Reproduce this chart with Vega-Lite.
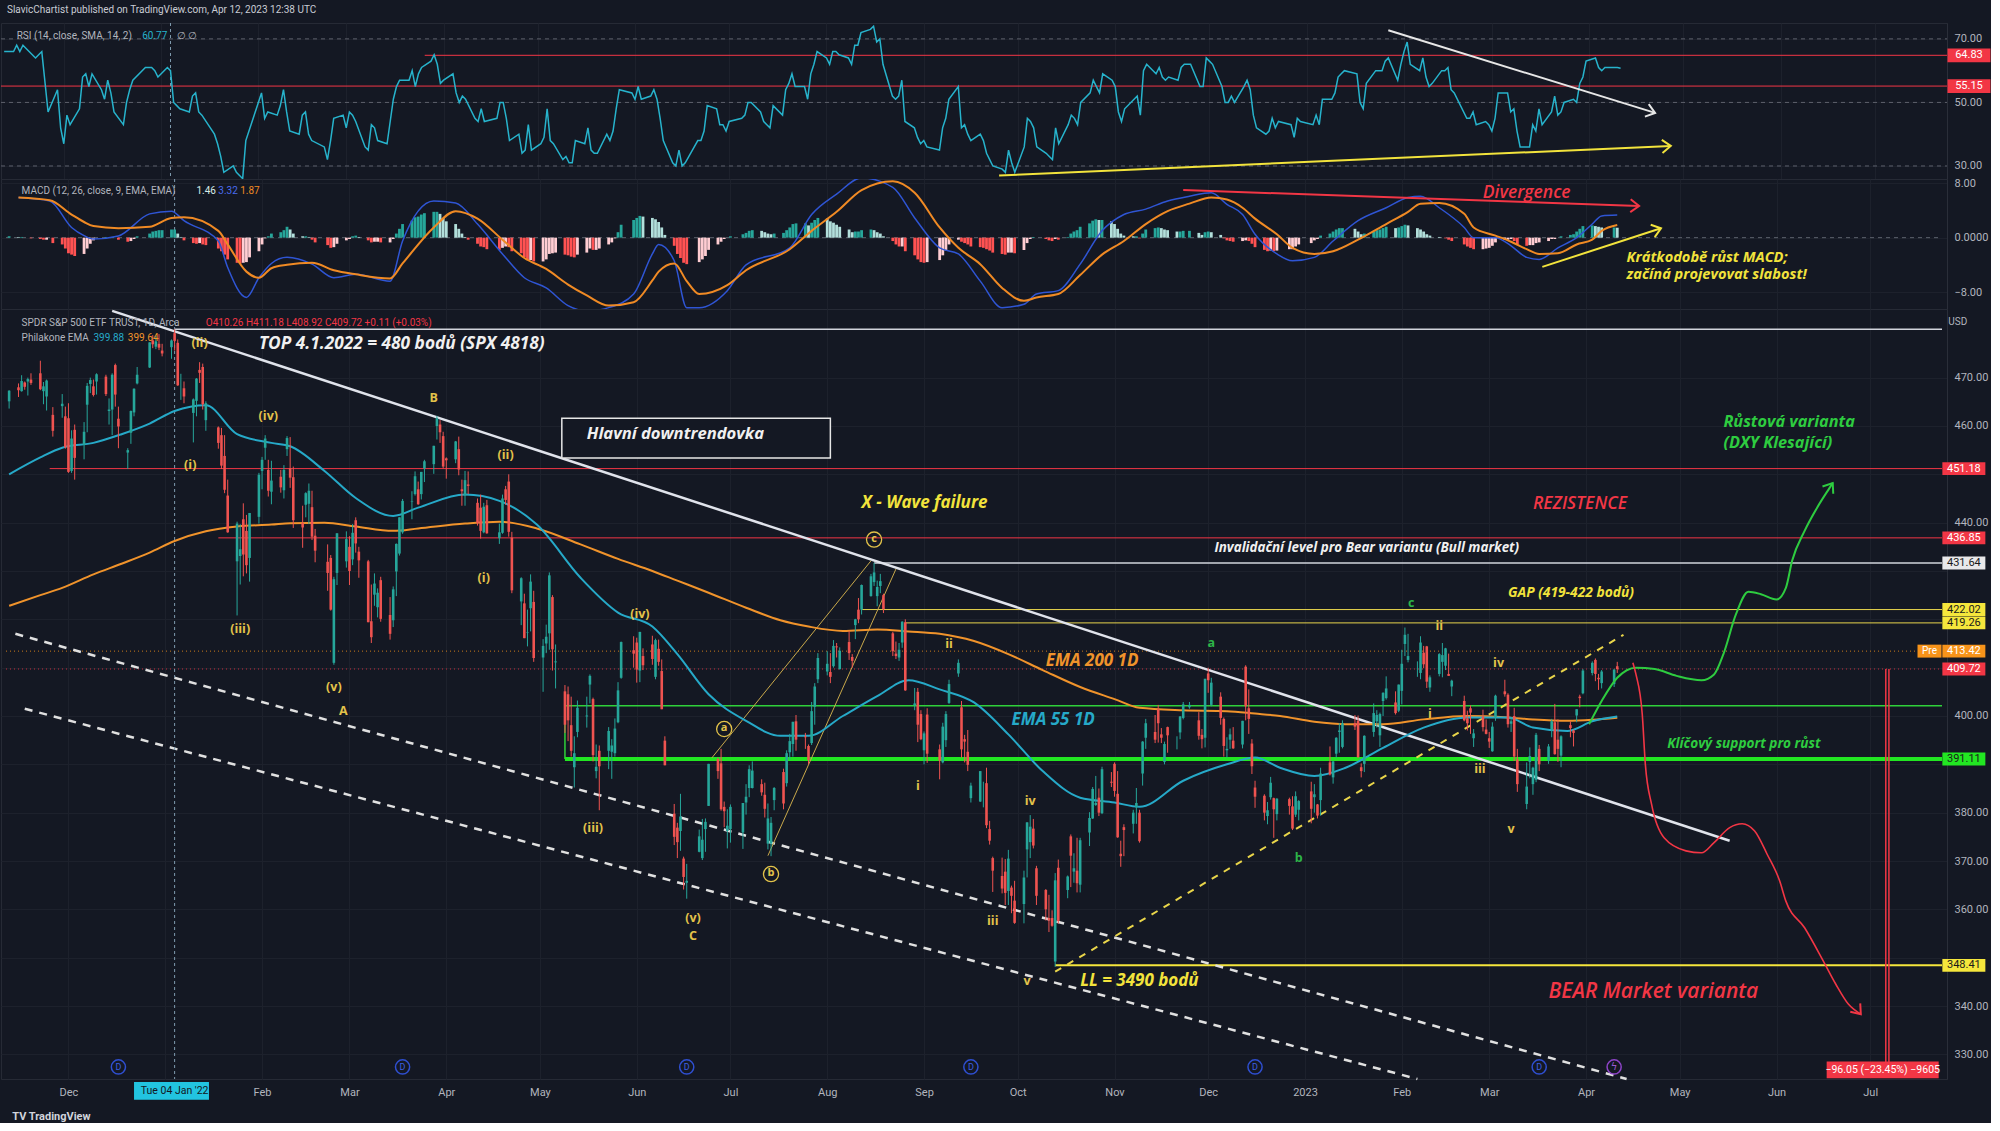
{
"$schema":"https://vega.github.io/schema/vega-lite/v6.json",
"background":"#141823",
"padding":{"left":0,"top":5,"right":0,"bottom":0},
"spacing":0,
"bounds":"flush",
"title":{"text":"SlavicChartist published on TradingView.com, Apr 12, 2023 12:38 UTC","anchor":"start","fontSize":10,"fontWeight":"normal","font":"Roboto","color":"#c9ccd4","offset":7,"dx":7},
"config":{"view":{"stroke":"#262a35"},"axis":{"gridColor":"#1d212c","domainColor":"#2a2e39","labelColor":"#b2b5be","labelFont":"Roboto","labelFontSize":11,"ticks":false}},
"datasets":{
"p":[
{"d":"2021-11-12","o":465.1,"h":467.4,"l":463.6,"c":467.3,"r":66,"hi":0.2},
{"d":"2021-11-15","o":468.0,"h":468.8,"l":466.0,"c":467.4,"r":66,"hi":0.1},
{"d":"2021-11-16","o":467.2,"h":470.5,"l":467.1,"c":469.3,"r":68,"hi":0.1},
{"d":"2021-11-17","o":469.0,"h":469.2,"l":467.5,"c":468.1,"r":66,"hi":0.0},
{"d":"2021-11-18","o":469.2,"h":470.0,"l":466.3,"c":469.7,"r":68,"hi":0.0},
{"d":"2021-11-19","o":469.6,"h":470.9,"l":468.5,"c":468.9,"r":67,"hi":-0.1},
{"d":"2021-11-22","o":470.9,"h":473.5,"l":467.4,"c":467.6,"r":64,"hi":-0.2},
{"d":"2021-11-23","o":467.2,"h":469.1,"l":464.5,"c":468.2,"r":65,"hi":-0.3},
{"d":"2021-11-24","o":466.1,"h":469.6,"l":463.2,"c":469.4,"r":66,"hi":-0.3},
{"d":"2021-11-26","o":462.3,"h":463.9,"l":457.8,"c":459.0,"r":47,"hi":-0.8},
{"d":"2021-11-29","o":464.1,"h":466.6,"l":461.7,"c":464.6,"r":54,"hi":-1.0},
{"d":"2021-11-30","o":462.0,"h":464.0,"l":455.3,"c":455.6,"r":42,"hi":-1.6},
{"d":"2021-12-01","o":461.6,"h":464.7,"l":450.3,"c":450.5,"r":37,"hi":-2.3},
{"d":"2021-12-02","o":450.7,"h":459.1,"l":450.3,"c":457.4,"r":46,"hi":-2.5},
{"d":"2021-12-03","o":459.2,"h":460.3,"l":448.9,"c":453.4,"r":43,"hi":-2.7},
{"d":"2021-12-06","o":456.1,"h":460.8,"l":453.1,"c":458.8,"r":48,"hi":-2.4},
{"d":"2021-12-07","o":464.4,"h":468.9,"l":458.7,"c":468.3,"r":58,"hi":-1.6},
{"d":"2021-12-08","o":468.7,"h":470.0,"l":466.8,"c":469.5,"r":59,"hi":-0.9},
{"d":"2021-12-09","o":468.2,"h":469.6,"l":466.1,"c":466.4,"r":55,"hi":-0.4},
{"d":"2021-12-10","o":469.2,"h":470.9,"l":466.5,"c":470.7,"r":59,"hi":0.0},
{"d":"2021-12-13","o":470.2,"h":470.6,"l":466.2,"c":466.6,"r":54,"hi":0.1},
{"d":"2021-12-14","o":463.1,"h":465.7,"l":460.3,"c":463.4,"r":51,"hi":0.0},
{"d":"2021-12-15","o":463.4,"h":470.9,"l":458.1,"c":470.6,"r":57,"hi":0.1},
{"d":"2021-12-16","o":472.6,"h":472.9,"l":464.0,"c":466.5,"r":53,"hi":0.0},
{"d":"2021-12-17","o":461.5,"h":464.0,"l":455.4,"c":459.9,"r":47,"hi":-0.3},
{"d":"2021-12-20","o":454.5,"h":455.4,"l":451.1,"c":455.0,"r":43,"hi":-0.6},
{"d":"2021-12-21","o":458.6,"h":463.2,"l":456.3,"c":463.1,"r":50,"hi":-0.5},
{"d":"2021-12-22","o":462.8,"h":467.8,"l":462.0,"c":467.7,"r":54,"hi":-0.2},
{"d":"2021-12-23","o":468.8,"h":472.2,"l":468.6,"c":470.6,"r":57,"hi":0.2},
{"d":"2021-12-27","o":472.1,"h":477.3,"l":472.0,"c":477.3,"r":61,"hi":0.6},
{"d":"2021-12-28","o":477.7,"h":478.8,"l":476.1,"c":476.9,"r":61,"hi":0.9},
{"d":"2021-12-29","o":476.4,"h":478.6,"l":475.9,"c":477.5,"r":61,"hi":1.0},
{"d":"2021-12-30","o":477.0,"h":479.0,"l":475.7,"c":476.2,"r":60,"hi":1.1},
{"d":"2021-12-31","o":475.6,"h":477.0,"l":474.4,"c":475.0,"r":58,"hi":1.1},
{"d":"2022-01-03","o":476.3,"h":477.9,"l":473.9,"c":477.7,"r":61,"hi":1.2},
{"d":"2022-01-04","o":479.2,"h":480.0,"l":475.6,"c":477.6,"r":60,"hi":1.2},
{"d":"2022-01-05","o":477.2,"h":477.9,"l":468.3,"c":468.4,"r":50,"hi":0.6},
{"d":"2022-01-06","o":467.9,"h":470.8,"l":465.4,"c":467.9,"r":49,"hi":0.1},
{"d":"2022-01-07","o":467.8,"h":469.2,"l":464.7,"c":466.1,"r":48,"hi":-0.4},
{"d":"2022-01-10","o":462.7,"h":465.7,"l":456.6,"c":465.5,"r":47,"hi":-0.8},
{"d":"2022-01-11","o":465.2,"h":469.9,"l":462.0,"c":469.8,"r":52,"hi":-0.9},
{"d":"2022-01-12","o":471.6,"h":473.2,"l":468.9,"c":471.0,"r":53,"hi":-0.8},
{"d":"2022-01-13","o":472.2,"h":472.9,"l":463.4,"c":464.5,"r":47,"hi":-1.0},
{"d":"2022-01-14","o":461.2,"h":465.1,"l":459.0,"c":464.7,"r":46,"hi":-1.1},
{"d":"2022-01-18","o":459.7,"h":459.9,"l":455.3,"c":456.5,"r":40,"hi":-1.6},
{"d":"2022-01-19","o":458.1,"h":459.6,"l":451.1,"c":451.8,"r":37,"hi":-2.0},
{"d":"2022-01-20","o":453.8,"h":458.1,"l":446.1,"c":446.8,"r":33,"hi":-2.5},
{"d":"2022-01-21","o":445.6,"h":448.9,"l":437.9,"c":438.0,"r":28,"hi":-3.2},
{"d":"2022-01-24","o":432.0,"h":440.2,"l":420.8,"c":439.8,"r":30,"hi":-3.7},
{"d":"2022-01-25","o":433.1,"h":439.7,"l":427.2,"c":434.5,"r":28,"hi":-3.8},
{"d":"2022-01-26","o":440.7,"h":444.0,"l":428.9,"c":433.4,"r":27,"hi":-3.7},
{"d":"2022-01-27","o":438.3,"h":441.6,"l":429.5,"c":431.2,"r":26,"hi":-3.6},
{"d":"2022-01-28","o":432.7,"h":442.0,"l":427.8,"c":442.0,"r":38,"hi":-2.9},
{"d":"2022-01-31","o":441.2,"h":450.3,"l":439.8,"c":449.9,"r":47,"hi":-2.0},
{"d":"2022-02-01","o":450.7,"h":453.6,"l":446.9,"c":453.0,"r":50,"hi":-1.0},
{"d":"2022-02-02","o":455.5,"h":458.1,"l":453.0,"c":457.4,"r":53,"hi":-0.1},
{"d":"2022-02-03","o":450.9,"h":453.0,"l":445.4,"c":446.6,"r":45,"hi":0.2},
{"d":"2022-02-04","o":446.4,"h":452.8,"l":443.8,"c":448.7,"r":47,"hi":0.6},
{"d":"2022-02-07","o":449.5,"h":450.9,"l":446.2,"c":447.3,"r":46,"hi":0.8},
{"d":"2022-02-08","o":446.7,"h":451.9,"l":445.0,"c":450.9,"r":49,"hi":1.1},
{"d":"2022-02-09","o":455.2,"h":457.9,"l":453.8,"c":457.5,"r":54,"hi":1.6},
{"d":"2022-02-10","o":451.3,"h":457.7,"l":447.2,"c":449.3,"r":47,"hi":1.2},
{"d":"2022-02-11","o":449.4,"h":451.6,"l":438.9,"c":440.5,"r":41,"hi":0.6},
{"d":"2022-02-14","o":439.9,"h":443.5,"l":434.8,"c":439.0,"r":40,"hi":0.2},
{"d":"2022-02-15","o":443.7,"h":446.3,"l":441.1,"c":446.1,"r":46,"hi":0.2},
{"d":"2022-02-16","o":443.9,"h":448.1,"l":439.7,"c":446.6,"r":47,"hi":0.1},
{"d":"2022-02-17","o":443.2,"h":446.6,"l":436.4,"c":437.1,"r":40,"hi":-0.3},
{"d":"2022-02-18","o":437.3,"h":438.7,"l":431.8,"c":434.2,"r":38,"hi":-0.7},
{"d":"2022-02-22","o":431.9,"h":435.5,"l":425.9,"c":429.6,"r":36,"hi":-1.1},
{"d":"2022-02-23","o":432.7,"h":433.3,"l":421.8,"c":422.0,"r":32,"hi":-1.5},
{"d":"2022-02-24","o":411.0,"h":428.8,"l":410.6,"c":428.3,"r":38,"hi":-1.4},
{"d":"2022-02-25","o":429.6,"h":437.8,"l":427.1,"c":437.8,"r":45,"hi":-0.9},
{"d":"2022-02-28","o":432.0,"h":438.2,"l":430.7,"c":436.6,"r":46,"hi":-0.4},
{"d":"2022-03-01","o":435.0,"h":437.2,"l":427.1,"c":430.0,"r":42,"hi":-0.2},
{"d":"2022-03-02","o":432.4,"h":439.7,"l":431.2,"c":437.9,"r":47,"hi":0.2},
{"d":"2022-03-03","o":440.5,"h":441.1,"l":433.8,"c":435.7,"r":46,"hi":0.3},
{"d":"2022-03-04","o":434.0,"h":435.0,"l":428.6,"c":432.2,"r":44,"hi":0.1},
{"d":"2022-03-07","o":432.0,"h":432.3,"l":419.4,"c":419.4,"r":36,"hi":-0.4},
{"d":"2022-03-08","o":419.6,"h":427.2,"l":415.1,"c":416.3,"r":35,"hi":-0.7},
{"d":"2022-03-09","o":425.1,"h":429.5,"l":422.8,"c":427.4,"r":43,"hi":-0.6},
{"d":"2022-03-10","o":422.5,"h":426.4,"l":420.4,"c":425.5,"r":42,"hi":-0.6},
{"d":"2022-03-11","o":428.1,"h":428.8,"l":419.5,"c":420.1,"r":38,"hi":-0.7},
{"d":"2022-03-14","o":420.9,"h":424.6,"l":415.8,"c":417.0,"r":37,"hi":-0.7},
{"d":"2022-03-15","o":419.8,"h":426.8,"l":418.4,"c":426.2,"r":44,"hi":-0.2},
{"d":"2022-03-16","o":429.9,"h":435.7,"l":424.8,"c":435.6,"r":51,"hi":0.6},
{"d":"2022-03-17","o":433.6,"h":441.1,"l":433.2,"c":441.1,"r":55,"hi":1.3},
{"d":"2022-03-18","o":438.0,"h":444.9,"l":437.7,"c":444.5,"r":57,"hi":2.0},
{"d":"2022-03-21","o":444.3,"h":446.5,"l":440.7,"c":444.4,"r":57,"hi":2.5},
{"d":"2022-03-22","o":445.9,"h":450.6,"l":445.6,"c":449.6,"r":60,"hi":3.0},
{"d":"2022-03-23","o":446.9,"h":448.5,"l":443.7,"c":443.8,"r":55,"hi":3.1},
{"d":"2022-03-24","o":445.9,"h":450.5,"l":444.8,"c":450.5,"r":59,"hi":3.4},
{"d":"2022-03-25","o":451.2,"h":453.0,"l":448.4,"c":452.7,"r":61,"hi":3.6},
{"d":"2022-03-28","o":452.1,"h":455.9,"l":450.1,"c":455.9,"r":63,"hi":3.8},
{"d":"2022-03-29","o":460.0,"h":462.1,"l":457.2,"c":461.6,"r":65,"hi":3.8},
{"d":"2022-03-30","o":460.3,"h":461.2,"l":456.5,"c":458.7,"r":62,"hi":3.5},
{"d":"2022-03-31","o":457.9,"h":458.8,"l":451.2,"c":451.6,"r":56,"hi":2.9},
{"d":"2022-04-01","o":453.3,"h":453.5,"l":449.1,"c":452.9,"r":57,"hi":2.4},
{"d":"2022-04-04","o":453.1,"h":456.9,"l":452.3,"c":456.8,"r":59,"hi":2.0},
{"d":"2022-04-05","o":455.2,"h":457.8,"l":449.8,"c":451.0,"r":53,"hi":1.3},
{"d":"2022-04-06","o":446.9,"h":448.9,"l":443.5,"c":446.5,"r":50,"hi":0.6},
{"d":"2022-04-07","o":445.6,"h":450.7,"l":443.5,"c":448.8,"r":52,"hi":0.1},
{"d":"2022-04-08","o":447.9,"h":450.6,"l":445.9,"c":447.6,"r":51,"hi":-0.3},
{"d":"2022-04-11","o":444.1,"h":445.0,"l":439.4,"c":439.9,"r":45,"hi":-0.9},
{"d":"2022-04-12","o":443.1,"h":445.8,"l":436.7,"c":438.3,"r":44,"hi":-1.3},
{"d":"2022-04-13","o":438.0,"h":444.1,"l":437.8,"c":443.3,"r":48,"hi":-1.4},
{"d":"2022-04-14","o":443.6,"h":444.7,"l":437.7,"c":437.8,"r":44,"hi":-1.7},
{"d":"2022-04-18","o":436.8,"h":439.8,"l":435.6,"c":438.0,"r":45,"hi":-1.8},
{"d":"2022-04-19","o":437.9,"h":445.8,"l":437.7,"c":445.0,"r":50,"hi":-1.5},
{"d":"2022-04-20","o":446.9,"h":447.6,"l":443.7,"c":444.7,"r":50,"hi":-1.3},
{"d":"2022-04-21","o":448.5,"h":450.0,"l":437.1,"c":438.1,"r":45,"hi":-1.4},
{"d":"2022-04-22","o":436.9,"h":438.1,"l":425.4,"c":426.0,"r":38,"hi":-2.0},
{"d":"2022-04-25","o":423.7,"h":428.7,"l":418.8,"c":428.5,"r":40,"hi":-2.3},
{"d":"2022-04-26","o":423.3,"h":425.3,"l":416.1,"c":416.1,"r":34,"hi":-2.9},
{"d":"2022-04-27","o":417.2,"h":422.0,"l":414.4,"c":417.3,"r":35,"hi":-3.3},
{"d":"2022-04-28","o":422.3,"h":429.3,"l":417.5,"c":427.8,"r":43,"hi":-3.3},
{"d":"2022-04-29","o":423.6,"h":425.9,"l":411.2,"c":412.0,"r":35,"hi":-3.5},
{"d":"2022-05-02","o":412.1,"h":415.9,"l":405.0,"c":414.5,"r":37,"hi":-3.5},
{"d":"2022-05-03","o":415.0,"h":418.9,"l":413.0,"c":416.4,"r":39,"hi":-3.2},
{"d":"2022-05-04","o":417.1,"h":429.7,"l":413.7,"c":429.1,"r":48,"hi":-2.4},
{"d":"2022-05-05","o":424.6,"h":425.0,"l":409.4,"c":413.8,"r":38,"hi":-2.3},
{"d":"2022-05-06","o":411.1,"h":414.8,"l":405.7,"c":411.3,"r":37,"hi":-2.2},
{"d":"2022-05-09","o":405.1,"h":406.4,"l":396.5,"c":398.2,"r":32,"hi":-2.5},
{"d":"2022-05-10","o":404.5,"h":406.1,"l":394.8,"c":399.1,"r":33,"hi":-2.6},
{"d":"2022-05-11","o":398.1,"h":404.0,"l":391.6,"c":392.8,"r":31,"hi":-2.8},
{"d":"2022-05-12","o":389.4,"h":395.8,"l":385.2,"c":392.3,"r":31,"hi":-2.9},
{"d":"2022-05-13","o":396.7,"h":403.2,"l":395.6,"c":401.7,"r":38,"hi":-2.5},
{"d":"2022-05-16","o":399.9,"h":404.0,"l":397.6,"c":400.1,"r":37,"hi":-2.2},
{"d":"2022-05-17","o":406.5,"h":408.6,"l":402.6,"c":408.3,"r":42,"hi":-1.6},
{"d":"2022-05-18","o":403.5,"h":403.8,"l":390.6,"c":391.9,"r":35,"hi":-1.8},
{"d":"2022-05-19","o":388.6,"h":394.1,"l":387.1,"c":389.5,"r":34,"hi":-1.8},
{"d":"2022-05-20","o":392.8,"h":393.9,"l":380.5,"c":389.6,"r":34,"hi":-1.6},
{"d":"2022-05-23","o":392.8,"h":397.7,"l":389.0,"c":396.9,"r":40,"hi":-1.0},
{"d":"2022-05-24","o":392.6,"h":395.2,"l":387.0,"c":393.9,"r":38,"hi":-0.7},
{"d":"2022-05-25","o":392.3,"h":399.5,"l":391.6,"c":397.4,"r":41,"hi":-0.1},
{"d":"2022-05-26","o":398.7,"h":407.0,"l":398.5,"c":405.3,"r":48,"hi":0.8},
{"d":"2022-05-27","o":407.9,"h":415.4,"l":407.7,"c":415.3,"r":54,"hi":1.9},
{"d":"2022-05-31","o":413.6,"h":416.5,"l":410.0,"c":412.9,"r":53,"hi":2.6},
{"d":"2022-06-01","o":415.2,"h":416.2,"l":406.9,"c":409.6,"r":51,"hi":2.9},
{"d":"2022-06-02","o":409.4,"h":417.4,"l":407.0,"c":417.4,"r":55,"hi":3.2},
{"d":"2022-06-03","o":412.4,"h":414.0,"l":409.5,"c":410.5,"r":51,"hi":3.1},
{"d":"2022-06-06","o":414.8,"h":416.6,"l":410.6,"c":411.8,"r":52,"hi":2.9},
{"d":"2022-06-07","o":408.1,"h":416.0,"l":407.6,"c":415.7,"r":54,"hi":2.7},
{"d":"2022-06-08","o":413.9,"h":415.8,"l":410.4,"c":411.2,"r":51,"hi":2.3},
{"d":"2022-06-09","o":409.3,"h":411.7,"l":401.4,"c":401.4,"r":45,"hi":1.5},
{"d":"2022-06-10","o":394.9,"h":395.8,"l":389.8,"c":389.8,"r":38,"hi":0.4},
{"d":"2022-06-13","o":379.8,"h":381.8,"l":373.3,"c":375.0,"r":31,"hi":-1.2},
{"d":"2022-06-14","o":376.9,"h":377.9,"l":370.6,"c":373.9,"r":30,"hi":-2.4},
{"d":"2022-06-15","o":376.2,"h":383.9,"l":372.1,"c":379.2,"r":35,"hi":-3.0},
{"d":"2022-06-16","o":370.5,"h":370.9,"l":364.1,"c":366.7,"r":30,"hi":-3.7},
{"d":"2022-06-17","o":365.5,"h":369.4,"l":362.2,"c":365.9,"r":31,"hi":-3.9},
{"d":"2022-06-21","o":371.9,"h":376.5,"l":371.8,"c":375.1,"r":38,"hi":-3.6},
{"d":"2022-06-22","o":370.6,"h":378.7,"l":370.2,"c":374.4,"r":38,"hi":-3.2},
{"d":"2022-06-23","o":376.6,"h":378.8,"l":371.9,"c":378.1,"r":41,"hi":-2.7},
{"d":"2022-06-24","o":381.4,"h":390.1,"l":381.4,"c":390.1,"r":49,"hi":-1.8},
{"d":"2022-06-27","o":391.1,"h":391.4,"l":387.0,"c":388.6,"r":48,"hi":-1.0},
{"d":"2022-06-28","o":390.2,"h":393.2,"l":380.4,"c":380.7,"r":43,"hi":-0.6},
{"d":"2022-06-29","o":381.2,"h":382.3,"l":377.0,"c":380.3,"r":43,"hi":-0.2},
{"d":"2022-06-30","o":376.2,"h":380.7,"l":372.6,"c":377.3,"r":41,"hi":0.0},
{"d":"2022-07-01","o":376.6,"h":381.7,"l":373.8,"c":381.2,"r":44,"hi":0.2},
{"d":"2022-07-05","o":375.9,"h":382.0,"l":372.5,"c":382.0,"r":45,"hi":0.5},
{"d":"2022-07-06","o":382.1,"h":385.9,"l":379.6,"c":383.3,"r":46,"hi":0.7},
{"d":"2022-07-07","o":385.1,"h":389.8,"l":383.2,"c":389.0,"r":50,"hi":1.0},
{"d":"2022-07-08","o":385.1,"h":390.6,"l":385.0,"c":388.7,"r":50,"hi":1.1},
{"d":"2022-07-11","o":385.9,"h":386.9,"l":383.5,"c":384.2,"r":47,"hi":1.0},
{"d":"2022-07-12","o":383.7,"h":386.2,"l":379.0,"c":380.8,"r":44,"hi":0.8},
{"d":"2022-07-13","o":373.6,"h":381.9,"l":372.4,"c":378.8,"r":43,"hi":0.6},
{"d":"2022-07-14","o":373.6,"h":379.1,"l":371.0,"c":377.9,"r":42,"hi":0.5},
{"d":"2022-07-15","o":382.6,"h":385.3,"l":380.5,"c":385.1,"r":49,"hi":0.6},
{"d":"2022-07-18","o":388.4,"h":389.1,"l":380.7,"c":381.9,"r":46,"hi":0.7},
{"d":"2022-07-19","o":386.1,"h":392.9,"l":385.4,"c":392.3,"r":54,"hi":1.1},
{"d":"2022-07-20","o":392.5,"h":396.3,"l":391.0,"c":394.8,"r":56,"hi":1.5},
{"d":"2022-07-21","o":394.2,"h":398.8,"l":391.6,"c":398.8,"r":59,"hi":2.0},
{"d":"2022-07-22","o":398.9,"h":400.2,"l":392.8,"c":395.1,"r":55,"hi":2.1},
{"d":"2022-07-25","o":395.8,"h":396.5,"l":393.2,"c":395.6,"r":55,"hi":2.1},
{"d":"2022-07-26","o":393.8,"h":394.1,"l":390.0,"c":390.9,"r":51,"hi":1.8},
{"d":"2022-07-27","o":394.4,"h":402.9,"l":394.0,"c":401.0,"r":59,"hi":2.2},
{"d":"2022-07-28","o":401.9,"h":406.8,"l":398.2,"c":406.1,"r":62,"hi":2.6},
{"d":"2022-07-29","o":407.6,"h":413.0,"l":406.8,"c":412.0,"r":66,"hi":2.9},
{"d":"2022-08-01","o":409.2,"h":413.4,"l":408.4,"c":410.8,"r":64,"hi":2.8},
{"d":"2022-08-02","o":409.1,"h":413.0,"l":406.8,"c":408.1,"r":62,"hi":2.4},
{"d":"2022-08-03","o":410.3,"h":415.7,"l":410.0,"c":414.5,"r":66,"hi":2.2},
{"d":"2022-08-04","o":414.4,"h":415.1,"l":412.1,"c":414.2,"r":66,"hi":1.9},
{"d":"2022-08-05","o":409.7,"h":414.2,"l":409.6,"c":413.5,"r":65,"hi":1.6},
{"d":"2022-08-08","o":415.3,"h":417.6,"l":411.6,"c":413.0,"r":64,"hi":1.2},
{"d":"2022-08-09","o":412.2,"h":412.8,"l":410.0,"c":411.4,"r":62,"hi":0.8},
{"d":"2022-08-10","o":418.8,"h":420.1,"l":415.9,"c":420.0,"r":68,"hi":0.9},
{"d":"2022-08-11","o":422.0,"h":424.4,"l":419.2,"c":420.0,"r":68,"hi":0.9},
{"d":"2022-08-12","o":422.0,"h":427.2,"l":421.0,"c":427.1,"r":72,"hi":1.1},
{"d":"2022-08-15","o":424.8,"h":429.4,"l":424.7,"c":428.9,"r":73,"hi":1.2},
{"d":"2022-08-16","o":427.7,"h":431.7,"l":426.9,"c":429.7,"r":74,"hi":1.1},
{"d":"2022-08-17","o":424.8,"h":428.0,"l":422.7,"c":426.7,"r":69,"hi":0.8},
{"d":"2022-08-18","o":426.9,"h":429.4,"l":425.4,"c":427.9,"r":70,"hi":0.6},
{"d":"2022-08-19","o":425.0,"h":425.3,"l":421.3,"c":422.1,"r":62,"hi":0.2},
{"d":"2022-08-22","o":417.1,"h":417.4,"l":412.4,"c":413.4,"r":52,"hi":-0.5},
{"d":"2022-08-23","o":412.9,"h":415.4,"l":411.8,"c":412.4,"r":51,"hi":-1.0},
{"d":"2022-08-24","o":412.1,"h":415.1,"l":411.4,"c":413.7,"r":52,"hi":-1.3},
{"d":"2022-08-25","o":415.2,"h":419.6,"l":414.1,"c":419.5,"r":57,"hi":-1.3},
{"d":"2022-08-26","o":419.4,"h":420.0,"l":405.2,"c":405.3,"r":44,"hi":-2.0},
{"d":"2022-08-29","o":402.2,"h":405.8,"l":401.2,"c":402.6,"r":42,"hi":-2.6},
{"d":"2022-08-30","o":405.0,"h":405.8,"l":394.6,"c":398.2,"r":39,"hi":-3.2},
{"d":"2022-08-31","o":400.4,"h":401.2,"l":395.0,"c":395.2,"r":37,"hi":-3.6},
{"d":"2022-09-01","o":392.9,"h":396.8,"l":390.0,"c":396.4,"r":38,"hi":-3.7},
{"d":"2022-09-02","o":400.3,"h":401.6,"l":390.3,"c":392.2,"r":36,"hi":-3.6},
{"d":"2022-09-06","o":393.1,"h":394.1,"l":386.9,"c":390.8,"r":35,"hi":-3.3},
{"d":"2022-09-07","o":390.4,"h":398.6,"l":390.2,"c":397.8,"r":42,"hi":-2.6},
{"d":"2022-09-08","o":395.0,"h":401.0,"l":393.6,"c":400.4,"r":45,"hi":-1.9},
{"d":"2022-09-09","o":402.7,"h":407.5,"l":402.5,"c":406.6,"r":51,"hi":-1.0},
{"d":"2022-09-12","o":408.8,"h":411.7,"l":408.1,"c":411.0,"r":55,"hi":-0.3},
{"d":"2022-09-13","o":401.8,"h":403.1,"l":391.4,"c":393.1,"r":42,"hi":-0.6},
{"d":"2022-09-14","o":395.2,"h":396.1,"l":390.4,"c":394.7,"r":43,"hi":-0.8},
{"d":"2022-09-15","o":392.6,"h":397.1,"l":388.6,"c":389.9,"r":40,"hi":-1.0},
{"d":"2022-09-16","o":383.0,"h":386.2,"l":382.1,"c":385.6,"r":38,"hi":-1.3},
{"d":"2022-09-19","o":382.3,"h":388.6,"l":382.2,"c":388.6,"r":40,"hi":-1.4},
{"d":"2022-09-20","o":384.1,"h":386.4,"l":381.1,"c":384.1,"r":38,"hi":-1.5},
{"d":"2022-09-21","o":386.1,"h":389.3,"l":376.8,"c":377.4,"r":34,"hi":-1.7},
{"d":"2022-09-22","o":376.6,"h":378.3,"l":373.4,"c":374.2,"r":32,"hi":-1.9},
{"d":"2022-09-23","o":370.6,"h":370.9,"l":363.6,"c":368.0,"r":30,"hi":-2.2},
{"d":"2022-09-26","o":366.9,"h":370.7,"l":363.3,"c":364.3,"r":29,"hi":-2.4},
{"d":"2022-09-27","o":367.8,"h":370.4,"l":360.9,"c":363.4,"r":28,"hi":-2.5},
{"d":"2022-09-28","o":363.8,"h":372.3,"l":360.9,"c":370.5,"r":35,"hi":-2.2},
{"d":"2022-09-29","o":364.5,"h":364.9,"l":359.2,"c":362.8,"r":31,"hi":-2.2},
{"d":"2022-09-30","o":361.8,"h":365.9,"l":357.0,"c":357.2,"r":28,"hi":-2.3},
{"d":"2022-10-03","o":361.1,"h":368.0,"l":357.1,"c":366.6,"r":36,"hi":-1.8},
{"d":"2022-10-04","o":372.4,"h":378.0,"l":366.6,"c":378.0,"r":45,"hi":-0.8},
{"d":"2022-10-05","o":373.9,"h":379.5,"l":370.6,"c":377.1,"r":44,"hi":-0.2},
{"d":"2022-10-06","o":376.7,"h":378.7,"l":372.6,"c":373.2,"r":42,"hi":0.1},
{"d":"2022-10-07","o":368.5,"h":369.0,"l":360.9,"c":362.8,"r":36,"hi":0.0},
{"d":"2022-10-10","o":364.0,"h":364.2,"l":357.7,"c":360.0,"r":34,"hi":-0.2},
{"d":"2022-10-11","o":358.2,"h":363.0,"l":355.3,"c":357.7,"r":33,"hi":-0.4},
{"d":"2022-10-12","o":358.2,"h":359.8,"l":356.4,"c":356.6,"r":32,"hi":-0.5},
{"d":"2022-10-13","o":349.2,"h":367.5,"l":348.1,"c":366.0,"r":42,"hi":-0.2},
{"d":"2022-10-14","o":368.6,"h":370.3,"l":357.0,"c":357.6,"r":37,"hi":-0.3},
{"d":"2022-10-17","o":364.0,"h":367.0,"l":362.3,"c":366.8,"r":43,"hi":0.1},
{"d":"2022-10-18","o":375.1,"h":375.5,"l":364.6,"c":371.1,"r":46,"hi":0.6},
{"d":"2022-10-19","o":367.8,"h":371.6,"l":365.5,"c":368.5,"r":45,"hi":0.9},
{"d":"2022-10-20","o":368.0,"h":374.8,"l":363.5,"c":365.4,"r":43,"hi":1.1},
{"d":"2022-10-21","o":365.1,"h":374.8,"l":363.5,"c":374.3,"r":50,"hi":1.6},
{"d":"2022-10-24","o":375.9,"h":380.1,"l":373.1,"c":378.9,"r":53,"hi":2.1},
{"d":"2022-10-25","o":378.8,"h":385.3,"l":378.7,"c":384.9,"r":57,"hi":2.5},
{"d":"2022-10-26","o":381.6,"h":387.6,"l":381.4,"c":382.0,"r":55,"hi":2.7},
{"d":"2022-10-27","o":383.1,"h":385.0,"l":379.3,"c":380.0,"r":53,"hi":2.6},
{"d":"2022-10-28","o":379.9,"h":389.5,"l":379.7,"c":389.0,"r":59,"hi":2.6},
{"d":"2022-10-31","o":386.4,"h":388.4,"l":385.3,"c":386.2,"r":57,"hi":2.4},
{"d":"2022-11-01","o":390.1,"h":390.4,"l":383.3,"c":384.5,"r":55,"hi":2.0},
{"d":"2022-11-02","o":383.9,"h":388.6,"l":374.8,"c":374.9,"r":47,"hi":1.3},
{"d":"2022-11-03","o":371.5,"h":374.2,"l":368.8,"c":371.0,"r":44,"hi":0.6},
{"d":"2022-11-04","o":377.0,"h":377.6,"l":371.0,"c":376.4,"r":48,"hi":0.3},
{"d":"2022-11-07","o":377.7,"h":380.6,"l":375.7,"c":380.0,"r":51,"hi":0.2},
{"d":"2022-11-08","o":381.1,"h":385.1,"l":377.7,"c":382.0,"r":52,"hi":0.2},
{"d":"2022-11-09","o":380.0,"h":380.6,"l":373.8,"c":374.1,"r":46,"hi":-0.1},
{"d":"2022-11-10","o":388.1,"h":394.8,"l":385.6,"c":394.7,"r":60,"hi":0.6},
{"d":"2022-11-11","o":395.5,"h":399.4,"l":393.2,"c":398.5,"r":62,"hi":1.2},
{"d":"2022-11-14","o":396.7,"h":400.2,"l":394.4,"c":395.1,"r":59,"hi":1.4},
{"d":"2022-11-15","o":401.4,"h":402.3,"l":394.5,"c":398.5,"r":61,"hi":1.5},
{"d":"2022-11-16","o":396.2,"h":397.5,"l":394.4,"c":395.5,"r":58,"hi":1.4},
{"d":"2022-11-17","o":390.5,"h":394.7,"l":390.0,"c":394.2,"r":57,"hi":1.2},
{"d":"2022-11-18","o":397.7,"h":397.8,"l":392.4,"c":396.0,"r":58,"hi":1.1},
{"d":"2022-11-21","o":394.6,"h":395.8,"l":393.1,"c":394.6,"r":57,"hi":0.9},
{"d":"2022-11-22","o":396.6,"h":400.0,"l":395.2,"c":399.9,"r":61,"hi":0.9},
{"d":"2022-11-23","o":399.6,"h":402.9,"l":399.3,"c":402.4,"r":62,"hi":1.0},
{"d":"2022-11-25","o":401.8,"h":402.9,"l":401.5,"c":402.3,"r":62,"hi":1.0},
{"d":"2022-11-28","o":399.1,"h":400.8,"l":395.1,"c":395.9,"r":55,"hi":0.7},
{"d":"2022-11-29","o":396.1,"h":397.3,"l":393.3,"c":395.2,"r":55,"hi":0.4},
{"d":"2022-11-30","o":395.5,"h":407.7,"l":393.5,"c":407.7,"r":64,"hi":0.8},
{"d":"2022-12-01","o":408.8,"h":410.0,"l":404.8,"c":407.4,"r":63,"hi":0.9},
{"d":"2022-12-02","o":402.3,"h":407.9,"l":402.0,"c":406.9,"r":62,"hi":0.8},
{"d":"2022-12-05","o":404.0,"h":404.9,"l":398.2,"c":399.6,"r":55,"hi":0.4},
{"d":"2022-12-06","o":399.4,"h":399.7,"l":391.6,"c":393.8,"r":50,"hi":-0.1},
{"d":"2022-12-07","o":392.9,"h":395.6,"l":391.4,"c":393.2,"r":50,"hi":-0.4},
{"d":"2022-12-08","o":395.1,"h":397.4,"l":393.2,"c":396.2,"r":52,"hi":-0.5},
{"d":"2022-12-09","o":394.9,"h":397.7,"l":393.2,"c":393.3,"r":50,"hi":-0.6},
{"d":"2022-12-12","o":394.1,"h":399.0,"l":393.3,"c":399.0,"r":55,"hi":-0.5},
{"d":"2022-12-13","o":410.2,"h":410.5,"l":399.1,"c":402.0,"r":57,"hi":-0.4},
{"d":"2022-12-14","o":401.6,"h":405.5,"l":396.3,"c":399.4,"r":54,"hi":-0.5},
{"d":"2022-12-15","o":394.3,"h":395.2,"l":388.0,"c":389.6,"r":46,"hi":-0.9},
{"d":"2022-12-16","o":385.2,"h":386.6,"l":381.0,"c":383.3,"r":42,"hi":-1.4},
{"d":"2022-12-19","o":383.5,"h":383.8,"l":378.4,"c":380.0,"r":40,"hi":-1.8},
{"d":"2022-12-20","o":379.3,"h":382.2,"l":377.6,"c":380.5,"r":41,"hi":-2.0},
{"d":"2022-12-21","o":383.2,"h":387.4,"l":382.7,"c":386.2,"r":45,"hi":-1.9},
{"d":"2022-12-22","o":383.0,"h":383.1,"l":374.8,"c":380.7,"r":42,"hi":-2.0},
{"d":"2022-12-23","o":379.7,"h":383.0,"l":378.4,"c":382.9,"r":44,"hi":-1.9},
{"d":"2022-12-27","o":382.8,"h":383.1,"l":379.6,"c":381.4,"r":43,"hi":-1.7},
{"d":"2022-12-28","o":381.3,"h":383.4,"l":376.4,"c":376.7,"r":39,"hi":-1.7},
{"d":"2022-12-29","o":379.6,"h":384.4,"l":379.1,"c":383.4,"r":45,"hi":-1.3},
{"d":"2022-12-30","o":380.6,"h":382.6,"l":378.4,"c":382.4,"r":44,"hi":-1.0},
{"d":"2023-01-03","o":384.4,"h":386.4,"l":377.8,"c":380.8,"r":43,"hi":-0.8},
{"d":"2023-01-04","o":383.2,"h":385.9,"l":380.0,"c":383.8,"r":46,"hi":-0.4},
{"d":"2023-01-05","o":381.7,"h":381.8,"l":378.8,"c":379.4,"r":43,"hi":-0.2},
{"d":"2023-01-06","o":382.6,"h":389.3,"l":379.4,"c":388.1,"r":51,"hi":0.3},
{"d":"2023-01-09","o":390.4,"h":393.7,"l":387.7,"c":387.9,"r":51,"hi":0.6},
{"d":"2023-01-10","o":387.3,"h":390.7,"l":386.0,"c":390.6,"r":53,"hi":0.9},
{"d":"2023-01-11","o":392.2,"h":395.6,"l":391.4,"c":395.5,"r":58,"hi":1.2},
{"d":"2023-01-12","o":396.7,"h":398.5,"l":392.4,"c":397.0,"r":59,"hi":1.4},
{"d":"2023-01-13","o":393.6,"h":399.1,"l":393.3,"c":398.5,"r":60,"hi":1.4},
{"d":"2023-01-17","o":398.5,"h":400.2,"l":397.1,"c":397.8,"r":59,"hi":1.3},
{"d":"2023-01-18","o":399.0,"h":400.1,"l":391.3,"c":391.5,"r":50,"hi":0.9},
{"d":"2023-01-19","o":389.4,"h":390.2,"l":387.3,"c":388.6,"r":48,"hi":0.5},
{"d":"2023-01-20","o":390.1,"h":396.0,"l":388.4,"c":395.9,"r":56,"hi":0.6},
{"d":"2023-01-23","o":396.7,"h":402.6,"l":395.7,"c":400.6,"r":60,"hi":0.9},
{"d":"2023-01-24","o":398.9,"h":401.2,"l":397.6,"c":400.2,"r":60,"hi":1.1},
{"d":"2023-01-25","o":396.0,"h":400.7,"l":393.6,"c":400.4,"r":60,"hi":1.2},
{"d":"2023-01-26","o":403.1,"h":404.9,"l":400.0,"c":404.8,"r":63,"hi":1.4},
{"d":"2023-01-27","o":403.7,"h":408.2,"l":403.4,"c":405.7,"r":64,"hi":1.6},
{"d":"2023-01-30","o":402.8,"h":405.1,"l":400.3,"c":400.6,"r":57,"hi":1.4},
{"d":"2023-01-31","o":401.1,"h":406.5,"l":400.8,"c":406.5,"r":62,"hi":1.5},
{"d":"2023-02-01","o":405.2,"h":413.7,"l":402.4,"c":410.8,"r":66,"hi":1.7},
{"d":"2023-02-02","o":414.9,"h":418.3,"l":412.4,"c":416.8,"r":69,"hi":1.9},
{"d":"2023-02-03","o":411.6,"h":417.0,"l":411.1,"c":412.4,"r":62,"hi":1.8},
{"d":"2023-02-06","o":409.8,"h":411.3,"l":408.1,"c":409.8,"r":60,"hi":1.4},
{"d":"2023-02-07","o":408.9,"h":416.5,"l":407.6,"c":415.2,"r":64,"hi":1.2},
{"d":"2023-02-08","o":413.1,"h":414.5,"l":409.9,"c":410.7,"r":58,"hi":0.9},
{"d":"2023-02-09","o":414.4,"h":414.5,"l":405.8,"c":407.1,"r":55,"hi":0.5},
{"d":"2023-02-10","o":405.9,"h":408.4,"l":405.0,"c":408.0,"r":56,"hi":0.3},
{"d":"2023-02-13","o":408.7,"h":413.0,"l":408.2,"c":412.8,"r":60,"hi":0.1},
{"d":"2023-02-14","o":411.2,"h":415.1,"l":408.0,"c":412.6,"r":60,"hi":0.0},
{"d":"2023-02-15","o":410.4,"h":414.1,"l":409.5,"c":414.0,"r":61,"hi":-0.1},
{"d":"2023-02-16","o":408.7,"h":412.9,"l":408.3,"c":408.3,"r":54,"hi":-0.3},
{"d":"2023-02-17","o":406.1,"h":407.5,"l":404.1,"c":407.3,"r":53,"hi":-0.5},
{"d":"2023-02-21","o":403.1,"h":404.2,"l":398.9,"c":399.1,"r":45,"hi":-1.0},
{"d":"2023-02-22","o":399.5,"h":401.1,"l":397.0,"c":398.5,"r":45,"hi":-1.3},
{"d":"2023-02-23","o":401.6,"h":402.2,"l":396.3,"c":400.7,"r":47,"hi":-1.5},
{"d":"2023-02-24","o":395.4,"h":397.3,"l":393.6,"c":396.4,"r":43,"hi":-1.7},
{"d":"2023-02-27","o":399.9,"h":401.3,"l":396.8,"c":397.7,"r":44,"hi":-1.7},
{"d":"2023-02-28","o":397.2,"h":399.3,"l":396.2,"c":396.3,"r":43,"hi":-1.6},
{"d":"2023-03-01","o":395.4,"h":396.7,"l":393.4,"c":394.7,"r":41,"hi":-1.5},
{"d":"2023-03-02","o":392.7,"h":398.7,"l":392.6,"c":397.8,"r":45,"hi":-1.2},
{"d":"2023-03-03","o":399.7,"h":404.4,"l":399.0,"c":404.2,"r":53,"hi":-0.7},
{"d":"2023-03-06","o":405.1,"h":407.5,"l":404.0,"c":404.5,"r":53,"hi":-0.3},
{"d":"2023-03-07","o":404.4,"h":404.7,"l":397.6,"c":398.3,"r":47,"hi":-0.3},
{"d":"2023-03-08","o":398.4,"h":399.7,"l":396.7,"c":398.9,"r":48,"hi":-0.2},
{"d":"2023-03-09","o":400.0,"h":401.7,"l":390.7,"c":391.6,"r":41,"hi":-0.5},
{"d":"2023-03-10","o":391.0,"h":393.2,"l":384.3,"c":385.9,"r":36,"hi":-1.0},
{"d":"2023-03-13","o":381.8,"h":390.4,"l":380.7,"c":385.4,"r":36,"hi":-1.2},
{"d":"2023-03-14","o":390.5,"h":393.5,"l":387.1,"c":391.7,"r":43,"hi":-1.1},
{"d":"2023-03-15","o":385.9,"h":389.5,"l":383.7,"c":389.3,"r":41,"hi":-1.1},
{"d":"2023-03-16","o":386.8,"h":396.5,"l":386.3,"c":396.1,"r":48,"hi":-0.8},
{"d":"2023-03-17","o":393.2,"h":394.0,"l":388.6,"c":390.0,"r":43,"hi":-0.7},
{"d":"2023-03-20","o":390.8,"h":394.2,"l":390.1,"c":393.7,"r":47,"hi":-0.5},
{"d":"2023-03-21","o":397.2,"h":399.4,"l":395.6,"c":398.9,"r":52,"hi":-0.2},
{"d":"2023-03-22","o":398.7,"h":402.5,"l":392.0,"c":392.1,"r":46,"hi":-0.2},
{"d":"2023-03-23","o":395.1,"h":399.3,"l":390.5,"c":393.2,"r":47,"hi":0.0},
{"d":"2023-03-24","o":391.8,"h":396.0,"l":389.4,"c":395.8,"r":50,"hi":0.2},
{"d":"2023-03-27","o":398.1,"h":398.9,"l":395.6,"c":397.5,"r":51,"hi":0.4},
{"d":"2023-03-28","o":397.0,"h":397.2,"l":393.7,"c":396.5,"r":50,"hi":0.5},
{"d":"2023-03-29","o":400.1,"h":401.4,"l":398.7,"c":401.4,"r":56,"hi":0.9},
{"d":"2023-03-30","o":404.0,"h":404.4,"l":401.8,"c":403.7,"r":58,"hi":1.3},
{"d":"2023-03-31","o":404.7,"h":409.7,"l":404.5,"c":409.4,"r":63,"hi":1.7},
{"d":"2023-04-03","o":408.9,"h":411.3,"l":408.4,"c":411.0,"r":64,"hi":1.8},
{"d":"2023-04-04","o":411.6,"h":411.9,"l":407.2,"c":408.7,"r":61,"hi":1.7},
{"d":"2023-04-05","o":407.9,"h":408.7,"l":405.4,"c":407.6,"r":60,"hi":1.6},
{"d":"2023-04-06","o":406.8,"h":409.5,"l":405.7,"c":409.2,"r":61,"hi":1.5},
{"d":"2023-04-10","o":406.6,"h":409.7,"l":406.0,"c":409.6,"r":61,"hi":1.5},
{"d":"2023-04-11","o":410.3,"h":411.2,"l":408.9,"c":409.7,"r":60.77,"hi":1.46}
],
"e":[
{"d":"2021-11-12","a":450.0,"b":422.8},{"d":"2021-11-22","a":453.5,"b":425.0},{"d":"2021-11-29","a":455.5,"b":426.5},{"d":"2021-12-09","a":456.5,"b":429.3},{"d":"2021-12-18","a":458.3,"b":431.5},{"d":"2021-12-27","a":460.5,"b":433.8},{"d":"2022-01-04","a":463.1,"b":436.2},{"d":"2022-01-14","a":464.3,"b":438.2},{"d":"2022-01-24","a":458.3,"b":439.2},{"d":"2022-02-04","a":456.5,"b":439.6},{"d":"2022-02-10","a":455.8,"b":439.9},{"d":"2022-02-21","a":450.7,"b":440.0},{"d":"2022-03-03","a":445.1,"b":439.2},{"d":"2022-03-15","a":441.4,"b":438.3},{"d":"2022-03-23","a":443.1,"b":438.8},{"d":"2022-04-07","a":445.8,"b":439.8},{"d":"2022-04-18","a":444.5,"b":440.2},{"d":"2022-04-30","a":439.6,"b":438.8},{"d":"2022-05-14","a":428.6,"b":435.5},{"d":"2022-05-26","a":421.4,"b":432.5},{"d":"2022-06-06","a":418.5,"b":430.0},{"d":"2022-06-14","a":412.8,"b":428.0},{"d":"2022-06-24","a":404.5,"b":425.5},{"d":"2022-07-06","a":399.0,"b":422.4},{"d":"2022-07-17","a":395.9,"b":419.8},{"d":"2022-07-26","a":395.9,"b":418.5},{"d":"2022-08-06","a":400.0,"b":417.6},{"d":"2022-08-17","a":404.1,"b":417.9},{"d":"2022-08-27","a":407.4,"b":417.5},{"d":"2022-09-06","a":405.5,"b":417.0},{"d":"2022-09-17","a":402.8,"b":415.5},{"d":"2022-09-28","a":396.2,"b":412.8},{"d":"2022-10-09","a":388.6,"b":409.5},{"d":"2022-10-21","a":383.1,"b":406.0},{"d":"2022-11-01","a":382.1,"b":403.5},{"d":"2022-11-09","a":381.2,"b":401.7},{"d":"2022-11-23","a":386.6,"b":401.2},{"d":"2022-12-07","a":390.0,"b":401.0},{"d":"2022-12-16","a":391.4,"b":400.5},{"d":"2022-12-24","a":389.3,"b":400.0},{"d":"2023-01-04","a":387.6,"b":398.8},{"d":"2023-01-14","a":389.3,"b":398.3},{"d":"2023-01-26","a":393.4,"b":398.3},{"d":"2023-02-08","a":397.6,"b":399.3},{"d":"2023-02-22","a":399.7,"b":400.0},{"d":"2023-03-07","a":399.7,"b":399.7},{"d":"2023-03-15","a":397.6,"b":399.3},{"d":"2023-03-26","a":396.9,"b":399.0},{"d":"2023-04-03","a":398.9,"b":399.2},{"d":"2023-04-11","a":399.88,"b":399.64}
],
"m":[
{"d":"2021-11-15","m":5.9,"s":5.9},{"d":"2021-11-25","m":5.4,"s":5.5},{"d":"2021-12-02","m":1.5,"s":3.4},{"d":"2021-12-06","m":0.3,"s":2.3},{"d":"2021-12-09","m":-0.2,"s":1.7},{"d":"2021-12-17","m":0.25,"s":1.4},{"d":"2021-12-27","m":3.5,"s":1.6},{"d":"2022-01-03","m":3.9,"s":2.9},{"d":"2022-01-07","m":2.5,"s":3.0},{"d":"2022-01-18","m":-0.5,"s":1.0},{"d":"2022-01-21","m":-4.4,"s":-1.0},{"d":"2022-01-27","m":-8.8,"s":-5.0},{"d":"2022-01-31","m":-5.9,"s":-5.9},{"d":"2022-02-04","m":-3.8,"s":-4.5},{"d":"2022-02-09","m":-2.9,"s":-4.0},{"d":"2022-02-17","m":-3.9,"s":-3.7},{"d":"2022-02-24","m":-5.9,"s":-4.8},{"d":"2022-03-03","m":-5.4,"s":-5.4},{"d":"2022-03-14","m":-6.4,"s":-6.0},{"d":"2022-03-18","m":-0.5,"s":-3.8},{"d":"2022-03-28","m":5.4,"s":1.5},{"d":"2022-04-04","m":5.1,"s":3.9},{"d":"2022-04-11","m":2.0,"s":2.8},{"d":"2022-04-19","m":-2.4,"s":-0.3},{"d":"2022-04-26","m":-5.9,"s":-3.0},{"d":"2022-05-03","m":-7.4,"s":-4.6},{"d":"2022-05-10","m":-10.0,"s":-6.9},{"d":"2022-05-16","m":-10.8,"s":-8.5},{"d":"2022-05-23","m":-10.3,"s":-10.0},{"d":"2022-05-31","m":-8.3,"s":-9.5},{"d":"2022-06-06","m":-2.4,"s":-6.3},{"d":"2022-06-08","m":-1.0,"s":-5.0},{"d":"2022-06-13","m":-3.4,"s":-3.8},{"d":"2022-06-17","m":-10.3,"s":-6.4},{"d":"2022-06-21","m":-10.3,"s":-8.3},{"d":"2022-06-30","m":-7.8,"s":-7.0},{"d":"2022-07-06","m":-4.0,"s":-4.8},{"d":"2022-07-20","m":-1.5,"s":-1.7},{"d":"2022-07-27","m":3.4,"s":1.0},{"d":"2022-08-04","m":6.4,"s":3.8},{"d":"2022-08-12","m":8.8,"s":7.0},{"d":"2022-08-22","m":7.4,"s":8.3},{"d":"2022-08-29","m":2.9,"s":6.6},{"d":"2022-09-06","m":-1.5,"s":1.5},{"d":"2022-09-12","m":-2.4,"s":-1.5},{"d":"2022-09-19","m":-6.4,"s":-3.9},{"d":"2022-09-26","m":-10.3,"s":-7.4},{"d":"2022-10-03","m":-9.8,"s":-9.3},{"d":"2022-10-07","m":-8.3,"s":-8.8},{"d":"2022-10-14","m":-7.8,"s":-8.3},{"d":"2022-10-21","m":-3.9,"s":-5.5},{"d":"2022-10-28","m":1.0,"s":-2.5},{"d":"2022-11-04","m":3.4,"s":-0.5},{"d":"2022-11-11","m":4.2,"s":2.0},{"d":"2022-11-18","m":5.4,"s":3.9},{"d":"2022-11-25","m":6.1,"s":5.0},{"d":"2022-12-02","m":6.6,"s":5.9},{"d":"2022-12-07","m":4.9,"s":5.6},{"d":"2022-12-12","m":3.4,"s":4.4},{"d":"2022-12-16","m":0.5,"s":2.8},{"d":"2022-12-23","m":-2.4,"s":0.5},{"d":"2022-12-28","m":-3.4,"s":-1.5},{"d":"2023-01-04","m":-2.9,"s":-2.4},{"d":"2023-01-10","m":-0.5,"s":-2.0},{"d":"2023-01-18","m":2.5,"s":-0.3},{"d":"2023-01-27","m":4.4,"s":2.0},{"d":"2023-02-03","m":5.9,"s":3.8},{"d":"2023-02-07","m":6.1,"s":5.0},{"d":"2023-02-13","m":4.4,"s":5.1},{"d":"2023-02-21","m":1.5,"s":3.5},{"d":"2023-02-24","m":0.0,"s":1.5},{"d":"2023-03-03","m":0.0,"s":0.3},{"d":"2023-03-08","m":-1.2,"s":-0.6},{"d":"2023-03-13","m":-2.9,"s":-1.7},{"d":"2023-03-17","m":-3.2,"s":-2.4},{"d":"2023-03-23","m":-1.5,"s":-2.3},{"d":"2023-03-29","m":0.0,"s":-1.0},{"d":"2023-04-03","m":2.0,"s":-0.3},{"d":"2023-04-06","m":3.2,"s":1.0},{"d":"2023-04-11","m":3.32,"s":1.87}
]
},
"vconcat":[
{
"width":1946,"height":156,
"encoding":{"x":{"field":"d","type":"temporal","title":null,"scale":{"domain":[{"year":2021,"month":11,"date":11},{"year":2023,"month":7,"date":24}]},"axis":{"labels":false,"domain":false,"ticks":false,"grid":true,"tickCount":{"interval":"month","step":1}}}},
"layer":[
{"data":{"values":[{"d":"2021-11-11","d2":"2023-07-24","v":70},{"d":"2021-11-11","d2":"2023-07-24","v":50},{"d":"2021-11-11","d2":"2023-07-24","v":30}]},"mark":{"type":"rule","color":"#5d616c","strokeDash":[4,4],"strokeWidth":1},"encoding":{"x2":{"field":"d2"},"y":{"field":"v","type":"quantitative","title":null,"scale":{"domain":[25.9,75],"nice":false,"zero":false},"axis":{"orient":"right","values":[30,40,50,60,70],"format":".2f","grid":true,"labelPadding":7}}}},
{"data":{"values":[{"d":"2022-03-26","d2":"2023-07-24","v":64.83},{"d":"2021-11-11","d2":"2023-07-24","v":55.15}]},"mark":{"type":"rule","color":"#f23645","strokeWidth":1},"encoding":{"x2":{"field":"d2"},"y":{"field":"v","type":"quantitative","title":null}}},
{"data":{"values":[{"d":"2022-01-04"}]},"mark":{"type":"rule","color":"#7f9bb0","strokeDash":[3,3],"strokeWidth":1},"encoding":{}},
{"data":{"name":"p"},"mark":{"type":"line","color":"#27b3cc","strokeWidth":1.5},"encoding":{"y":{"field":"r","type":"quantitative","title":null}}},
{"data":{"values":[{"d":"2023-01-27","d2":"2023-04-22","v":72.7,"v2":46.7}]},"mark":{"type":"rule","color":"#e6e6e6","strokeWidth":2},"encoding":{"x2":{"field":"d2"},"y":{"field":"v","type":"quantitative","title":null},"y2":{"field":"v2"}}},
{"data":{"values":[{"d":"2023-04-22","v":46.7}]},"mark":{"type":"point","shape":"M-1,-0.75L0,0L-1,0.75","filled":false,"size":300,"strokeWidth":2,"color":"#e6e6e6","opacity":1,"angle":17},"encoding":{"y":{"field":"v","type":"quantitative","title":null}}},
{"data":{"values":[{"d":"2022-09-25","d2":"2023-04-27","v":27.0,"v2":36.3}]},"mark":{"type":"rule","color":"#f2e33c","strokeWidth":2},"encoding":{"x2":{"field":"d2"},"y":{"field":"v","type":"quantitative","title":null},"y2":{"field":"v2"}}},
{"data":{"values":[{"d":"2023-04-27","v":36.3}]},"mark":{"type":"point","shape":"M-1,-0.75L0,0L-1,0.75","filled":false,"size":300,"strokeWidth":2,"color":"#f2e33c","opacity":1,"angle":-3},"encoding":{"y":{"field":"v","type":"quantitative","title":null}}},
{"data":{"values":[{"d":"2023-07-31","v":64.83},{"d":"2023-07-31","v":55.15}]},"mark":{"type":"point","shape":"M-1,-0.32L1,-0.32L1,0.32L-1,0.32Z","size":1849,"filled":true,"color":"#f23645","opacity":1},"encoding":{"y":{"field":"v","type":"quantitative","title":null}}},
{"data":{"values":[{"d":"2023-07-31","v":64.83},{"d":"2023-07-31","v":55.15}]},"mark":{"type":"text","color":"#ffffff","fontSize":11,"font":"Roboto"},"encoding":{"y":{"field":"v","type":"quantitative","title":null},"text":{"field":"v","type":"quantitative","format":".2f"}}},
{"data":{"values":[{"d":"2021-11-16","v":70.9,"t":"RSI (14, close, SMA, 14, 2)"},{"d":"2022-01-06","v":70.9,"t":"∅  ∅"}]},"mark":{"type":"text","align":"left","baseline":"middle","fontSize":10,"color":"#b2b5be","font":"Roboto"},"encoding":{"y":{"field":"v","type":"quantitative","title":null},"text":{"field":"t"}}},
{"data":{"values":[{"d":"2021-12-26","v":70.9,"t":"60.77"}]},"mark":{"type":"text","align":"left","baseline":"middle","fontSize":10,"color":"#27b3cc","font":"Roboto"},"encoding":{"y":{"field":"v","type":"quantitative","title":null},"text":{"field":"t"}}}
]
},
{
"width":1946,"height":130,
"encoding":{"x":{"field":"d","type":"temporal","title":null,"scale":{"domain":[{"year":2021,"month":11,"date":11},{"year":2023,"month":7,"date":24}]},"axis":{"labels":false,"domain":false,"ticks":false,"grid":true,"tickCount":{"interval":"month","step":1}}}},
"layer":[
{"data":{"values":[{"d":"2021-11-11","d2":"2023-07-24","v":0}]},"mark":{"type":"rule","color":"#5d616c","strokeDash":[4,4],"strokeWidth":1},"encoding":{"x2":{"field":"d2"},"y":{"field":"v","type":"quantitative","title":null,"scale":{"domain":[-10.5,8.63],"nice":false,"zero":false},"axis":{"orient":"right","values":[-8,-4,0,4,8],"labelExpr":"datum.value == 0 ? '0.0000' : format(datum.value, '.2f')","grid":true,"labelPadding":7}}}},
{"data":{"values":[{"d":"2022-01-04"}]},"mark":{"type":"rule","color":"#7f9bb0","strokeDash":[3,3],"strokeWidth":1},"encoding":{}},
{"data":{"name":"p"},"transform":[{"window":[{"op":"lag","field":"hi","as":"ph"}],"sort":[{"field":"d"}]}],"mark":{"type":"bar","width":2.8},"encoding":{"y":{"field":"hi","type":"quantitative","title":null},"y2":{"datum":0},"color":{"condition":[{"test":"datum.hi >= 0 && datum.hi >= datum.ph","value":"#26a69a"},{"test":"datum.hi >= 0","value":"#b2dfdb"},{"test":"datum.hi < datum.ph","value":"#ff5252"}],"value":"#ffcdd2"}}},
{"data":{"name":"m"},"mark":{"type":"line","color":"#2f55d4","strokeWidth":1.5,"interpolate":"monotone","clip":true},"encoding":{"y":{"field":"m","type":"quantitative","title":null}}},
{"data":{"name":"m"},"mark":{"type":"line","color":"#f08a24","strokeWidth":2,"interpolate":"monotone","clip":true},"encoding":{"y":{"field":"s","type":"quantitative","title":null}}},
{"data":{"values":[{"d":"2022-11-23","d2":"2023-04-18","v":7.0,"v2":4.66}]},"mark":{"type":"rule","color":"#f23645","strokeWidth":2},"encoding":{"x2":{"field":"d2"},"y":{"field":"v","type":"quantitative","title":null},"y2":{"field":"v2"}}},
{"data":{"values":[{"d":"2023-04-18","v":4.66}]},"mark":{"type":"point","shape":"M-1,-0.75L0,0L-1,0.75","filled":false,"size":300,"strokeWidth":2,"color":"#f23645","opacity":1,"angle":2},"encoding":{"y":{"field":"v","type":"quantitative","title":null}}},
{"data":{"values":[{"d":"2023-03-18","d2":"2023-04-25","v":-4.3,"v2":1.38}]},"mark":{"type":"rule","color":"#f2e33c","strokeWidth":2},"encoding":{"x2":{"field":"d2"},"y":{"field":"v","type":"quantitative","title":null},"y2":{"field":"v2"}}},
{"data":{"values":[{"d":"2023-04-25","v":1.38}]},"mark":{"type":"point","shape":"M-1,-0.75L0,0L-1,0.75","filled":false,"size":300,"strokeWidth":2,"color":"#f2e33c","opacity":1,"angle":-18},"encoding":{"y":{"field":"v","type":"quantitative","title":null}}},
{"data":{"values":[{"d":"2023-03-13","v":6.6,"t":"Divergence"}]},"mark":{"type":"text","align":"center","baseline":"middle","fontSize":17.5,"fontStyle":"italic","fontWeight":600,"color":"#f23645","font":"Open Sans"},"encoding":{"y":{"field":"v","type":"quantitative","title":null},"text":{"field":"t"}}},
{"data":{"values":[{"d":"2023-04-14","v":-3.0,"t":"Krátkodobě růst MACD;"},{"d":"2023-04-14","v":-5.5,"t":"začíná projevovat slabost!"}]},"mark":{"type":"text","align":"left","baseline":"middle","fontSize":14.6,"fontStyle":"italic","fontWeight":"bold","color":"#f2e33c","font":"Open Sans"},"encoding":{"y":{"field":"v","type":"quantitative","title":null},"text":{"field":"t"}}},
{"data":{"values":[{"d":"2021-11-16","v":6.9,"t":"MACD (12, 26, close, 9, EMA, EMA)"}]},"mark":{"type":"text","align":"left","baseline":"middle","fontSize":10,"color":"#b2b5be","font":"Roboto"},"encoding":{"y":{"field":"v","type":"quantitative","title":null},"text":{"field":"t"}}},
{"data":{"values":[{"d":"2022-01-11","v":6.9,"t":"1.46"}]},"mark":{"type":"text","align":"left","baseline":"middle","fontSize":10,"color":"#d8ece9","font":"Roboto"},"encoding":{"y":{"field":"v","type":"quantitative","title":null},"text":{"field":"t"}}},
{"data":{"values":[{"d":"2022-01-18","v":6.9,"t":"3.32"}]},"mark":{"type":"text","align":"left","baseline":"middle","fontSize":10,"color":"#4a6cf0","font":"Roboto"},"encoding":{"y":{"field":"v","type":"quantitative","title":null},"text":{"field":"t"}}},
{"data":{"values":[{"d":"2022-01-25","v":6.9,"t":"1.87"}]},"mark":{"type":"text","align":"left","baseline":"middle","fontSize":10,"color":"#f08a24","font":"Roboto"},"encoding":{"y":{"field":"v","type":"quantitative","title":null},"text":{"field":"t"}}}
]
},
{
"width":1946,"height":770,
"encoding":{"x":{"field":"d","type":"temporal","title":null,"scale":{"domain":[{"year":2021,"month":11,"date":11},{"year":2023,"month":7,"date":24}]},"axis":{"orient":"bottom","domain":false,"ticks":false,"grid":true,"tickCount":{"interval":"month","step":1},"labelExpr":"month(datum.value) == 0 ? (year(datum.value) == 2023 ? '2023' : '') : timeFormat(datum.value, '%b')","labelPadding":7,"labelFlush":false,"labelOverlap":false}}},
"layer":[
{"data":{"values":[{"d":"2021-11-11","d2":"2023-07-24","v":413.42}]},"mark":{"type":"rule","color":"#f7931a","strokeDash":[1,3],"strokeWidth":1,"opacity":0.8},"encoding":{"x2":{"field":"d2"},"y":{"field":"v","type":"quantitative","title":null,"scale":{"domain":[324.9,484.2],"nice":false,"zero":false},"axis":{"orient":"right","values":[330,340,350,360,370,380,390,400,410,420,430,440,450,460,470],"labelExpr":"indexof([350,390,410,420,430,450], datum.value) >= 0 ? '' : format(datum.value, '.2f')","grid":true,"labelPadding":7}}}},
{"data":{"values":[{"d":"2021-11-11","d2":"2023-07-24","v":409.72}]},"mark":{"type":"rule","color":"#f23645","strokeDash":[1,3],"strokeWidth":1,"opacity":0.8},"encoding":{"x2":{"field":"d2"},"y":{"field":"v","type":"quantitative","title":null}}},
{"data":{"values":[{"d":"2021-11-25","d2":"2023-07-24","v":451.18},{"d":"2022-01-18","d2":"2023-07-24","v":436.85}]},"mark":{"type":"rule","color":"#f23645","strokeWidth":1},"encoding":{"x2":{"field":"d2"},"y":{"field":"v","type":"quantitative","title":null}}},
{"data":{"values":[{"d":"2022-01-04","d2":"2023-07-24","v":480},{"d":"2022-08-16","d2":"2023-07-24","v":431.64}]},"mark":{"type":"rule","color":"#d1d4dc","strokeWidth":1.6},"encoding":{"x2":{"field":"d2"},"y":{"field":"v","type":"quantitative","title":null}}},
{"data":{"values":[{"d":"2022-08-12","d2":"2023-07-24","v":422.02},{"d":"2022-08-26","d2":"2023-07-24","v":419.26}]},"mark":{"type":"rule","color":"#e8d44d","strokeWidth":1},"encoding":{"x2":{"field":"d2"},"y":{"field":"v","type":"quantitative","title":null}}},
{"data":{"values":[{"d":"2022-05-09","d2":"2023-07-24","v":402.1}]},"mark":{"type":"rule","color":"#2fd13a","strokeWidth":1.5},"encoding":{"x2":{"field":"d2"},"y":{"field":"v","type":"quantitative","title":null}}},
{"data":{"values":[{"d":"2022-05-09","v":402.1,"v2":391.11}]},"mark":{"type":"rule","color":"#2fd13a","strokeWidth":1.5},"encoding":{"y":{"field":"v","type":"quantitative","title":null},"y2":{"field":"v2"}}},
{"data":{"values":[{"d":"2022-05-09","d2":"2023-07-24","v":391.11}]},"mark":{"type":"rule","color":"#22e622","strokeWidth":4},"encoding":{"x2":{"field":"d2"},"y":{"field":"v","type":"quantitative","title":null}}},
{"data":{"values":[{"d":"2022-10-13","d2":"2023-07-24","v":348.41}]},"mark":{"type":"rule","color":"#f5e63c","strokeWidth":2},"encoding":{"x2":{"field":"d2"},"y":{"field":"v","type":"quantitative","title":null}}},
{"data":{"values":[{"d":"2021-11-14","d2":"2023-04-14","v":417.0,"v2":324.9},{"d":"2021-11-17","d2":"2023-02-06","v":401.5,"v2":324.9}]},"mark":{"type":"rule","color":"#e0e0e0","strokeDash":[8,7],"strokeWidth":2.5},"encoding":{"x2":{"field":"d2"},"y":{"field":"v","type":"quantitative","title":null},"y2":{"field":"v2"}}},
{"data":{"values":[{"d":"2021-12-15","d2":"2023-05-17","v":483.8,"v2":374.2}]},"mark":{"type":"rule","color":"#e0e3eb","strokeWidth":2.5},"encoding":{"x2":{"field":"d2"},"y":{"field":"v","type":"quantitative","title":null},"y2":{"field":"v2"}}},
{"data":{"values":[{"d":"2022-10-13","d2":"2023-04-13","v":347.1,"v2":416.8}]},"mark":{"type":"rule","color":"#e9d54a","strokeDash":[7,7],"strokeWidth":2},"encoding":{"x2":{"field":"d2"},"y":{"field":"v","type":"quantitative","title":null},"y2":{"field":"v2"}}},
{"data":{"values":[{"d":"2022-06-25","d2":"2022-08-15","v":391.3,"v2":432.1},{"d":"2022-07-13","d2":"2022-08-23","v":371.1,"v2":430.4}]},"mark":{"type":"rule","color":"#c9a94b","strokeWidth":1},"encoding":{"x2":{"field":"d2"},"y":{"field":"v","type":"quantitative","title":null},"y2":{"field":"v2"}}},
{"data":{"values":[{"d":"2022-01-04"}]},"mark":{"type":"rule","color":"#7f9bb0","strokeDash":[3,3],"strokeWidth":1},"encoding":{}},
{"data":{"name":"e"},"mark":{"type":"line","color":"#f0932b","strokeWidth":2,"interpolate":"monotone"},"encoding":{"y":{"field":"b","type":"quantitative","title":null}}},
{"data":{"name":"e"},"mark":{"type":"line","color":"#26a9c8","strokeWidth":2,"interpolate":"monotone"},"encoding":{"y":{"field":"a","type":"quantitative","title":null}}},
{"data":{"name":"p"},"mark":{"type":"rule","strokeWidth":1},"encoding":{"y":{"field":"l","type":"quantitative","title":null},"y2":{"field":"h"},"color":{"condition":{"test":"datum.c >= datum.o","value":"#26a69a"},"value":"#ef5350"}}},
{"data":{"name":"p"},"mark":{"type":"bar","width":2.6},"encoding":{"y":{"field":"o","type":"quantitative","title":null},"y2":{"field":"c"},"color":{"condition":{"test":"datum.c >= datum.o","value":"#26a69a"},"value":"#ef5350"}}},
{"data":{"values":[{"d":"2023-04-02","v":398.3},{"d":"2023-04-06","v":403.1},{"d":"2023-04-11","v":407.9},{"d":"2023-04-17","v":410.0},{"d":"2023-04-23","v":409.7},{"d":"2023-04-30","v":408.3},{"d":"2023-05-08","v":407.4},{"d":"2023-05-12","v":408.6},{"d":"2023-05-15","v":412.8},{"d":"2023-05-19","v":421.0},{"d":"2023-05-23","v":425.7},{"d":"2023-05-27","v":425.2},{"d":"2023-06-01","v":424.1},{"d":"2023-06-04","v":426.5},{"d":"2023-06-06","v":432.1},{"d":"2023-06-10","v":438.3},{"d":"2023-06-14","v":443.1},{"d":"2023-06-18","v":447.2},{"d":"2023-06-19","v":448.2}]},"mark":{"type":"line","color":"#2ecc40","strokeWidth":2,"interpolate":"monotone"},"encoding":{"y":{"field":"v","type":"quantitative","title":null}}},
{"data":{"values":[{"d":"2023-06-19","v":448.2}]},"mark":{"type":"point","shape":"M-1,-0.75L0,0L-1,0.75","filled":false,"size":300,"strokeWidth":2,"color":"#2ecc40","opacity":1,"angle":-56},"encoding":{"y":{"field":"v","type":"quantitative","title":null}}},
{"data":{"values":[{"d":"2023-04-16","v":411.0},{"d":"2023-04-17","v":408.6},{"d":"2023-04-19","v":400.4},{"d":"2023-04-20","v":390.0},{"d":"2023-04-22","v":381.7},{"d":"2023-04-26","v":374.8},{"d":"2023-05-03","v":372.1},{"d":"2023-05-08","v":371.7},{"d":"2023-05-12","v":373.8},{"d":"2023-05-17","v":376.9},{"d":"2023-05-21","v":377.7},{"d":"2023-05-25","v":376.2},{"d":"2023-05-29","v":371.4},{"d":"2023-06-02","v":365.9},{"d":"2023-06-04","v":361.7},{"d":"2023-06-10","v":356.2},{"d":"2023-06-16","v":349.3},{"d":"2023-06-20","v":344.5},{"d":"2023-06-24","v":340.4},{"d":"2023-06-28","v":338.3}]},"mark":{"type":"line","color":"#f23645","strokeWidth":1.6,"interpolate":"monotone"},"encoding":{"y":{"field":"v","type":"quantitative","title":null}}},
{"data":{"values":[{"d":"2023-06-28","v":338.3}]},"mark":{"type":"point","shape":"M-1,-0.75L0,0L-1,0.75","filled":false,"size":300,"strokeWidth":2,"color":"#f23645","opacity":1,"angle":50},"encoding":{"y":{"field":"v","type":"quantitative","title":null}}},
{"data":{"values":[{"d":"2023-07-06","v":409.72,"v2":328.2},{"d":"2023-07-07","v":409.72,"v2":328.2}]},"mark":{"type":"rule","color":"#f23645","strokeWidth":1.5},"encoding":{"y":{"field":"v","type":"quantitative","title":null},"y2":{"field":"v2"}}},
{"data":{"values":[{"d":"2022-05-08","d2":"2022-08-02","v":461.6,"v2":453.4}]},"mark":{"type":"rect","fill":"#141823","stroke":"#e6e6e6","strokeWidth":1.5},"encoding":{"x2":{"field":"d2"},"y":{"field":"v","type":"quantitative","title":null},"y2":{"field":"v2"}}},
{"data":{"values":[{"d":"2022-01-31","v":477.0,"t":"TOP 4.1.2022 = 480 bodů (SPX 4818)"}]},"mark":{"type":"text","align":"left","baseline":"middle","fontSize":17.3,"fontStyle":"italic","fontWeight":"bold","color":"#f0f0f0","font":"Open Sans"},"encoding":{"y":{"field":"v","type":"quantitative","title":null},"text":{"field":"t"}}},
{"data":{"values":[{"d":"2022-05-16","v":458.4,"t":"Hlavní downtrendovka"}]},"mark":{"type":"text","align":"left","baseline":"middle","fontSize":16.6,"fontStyle":"italic","fontWeight":"bold","color":"#f0f0f0","font":"Open Sans"},"encoding":{"y":{"field":"v","type":"quantitative","title":null},"text":{"field":"t"}}},
{"data":{"values":[{"d":"2022-12-03","v":434.8,"t":"Invalidační level pro Bear variantu (Bull market)"}]},"mark":{"type":"text","align":"left","baseline":"middle","fontSize":13.4,"fontStyle":"italic","fontWeight":"bold","color":"#f0f0f0","font":"Open Sans"},"encoding":{"y":{"field":"v","type":"quantitative","title":null},"text":{"field":"t"}}},
{"data":{"values":[{"d":"2022-08-12","v":444.1,"t":"X - Wave failure"},{"d":"2022-10-21","v":345.2,"t":"LL = 3490 bodů"}]},"mark":{"type":"text","align":"left","baseline":"middle","fontSize":17,"fontStyle":"italic","fontWeight":"bold","color":"#f2e33c","font":"Open Sans"},"encoding":{"y":{"field":"v","type":"quantitative","title":null},"text":{"field":"t"}}},
{"data":{"values":[{"d":"2023-03-07","v":425.5,"t":"GAP (419-422 bodů)"}]},"mark":{"type":"text","align":"left","baseline":"middle","fontSize":13.8,"fontStyle":"italic","fontWeight":"bold","color":"#f2e33c","font":"Open Sans"},"encoding":{"y":{"field":"v","type":"quantitative","title":null},"text":{"field":"t"}}},
{"data":{"values":[{"d":"2022-10-10","v":411.4,"t":"EMA 200 1D"}]},"mark":{"type":"text","align":"left","baseline":"middle","fontSize":17,"fontStyle":"italic","fontWeight":"bold","color":"#f0932b","font":"Open Sans"},"encoding":{"y":{"field":"v","type":"quantitative","title":null},"text":{"field":"t"}}},
{"data":{"values":[{"d":"2022-09-29","v":399.1,"t":"EMA 55 1D"}]},"mark":{"type":"text","align":"left","baseline":"middle","fontSize":17,"fontStyle":"italic","fontWeight":"bold","color":"#26a9c8","font":"Open Sans"},"encoding":{"y":{"field":"v","type":"quantitative","title":null},"text":{"field":"t"}}},
{"data":{"values":[{"d":"2023-03-15","v":443.8,"t":"REZISTENCE"}]},"mark":{"type":"text","align":"left","baseline":"middle","fontSize":17.5,"fontStyle":"italic","color":"#f23645","font":"Open Sans","fontWeight":600},"encoding":{"y":{"field":"v","type":"quantitative","title":null},"text":{"field":"t"}}},
{"data":{"values":[{"d":"2023-03-20","v":342.8,"t":"BEAR Market varianta"}]},"mark":{"type":"text","align":"left","baseline":"middle","fontSize":21,"fontStyle":"italic","color":"#f23645","font":"Open Sans","fontWeight":600},"encoding":{"y":{"field":"v","type":"quantitative","title":null},"text":{"field":"t"}}},
{"data":{"values":[{"d":"2023-05-15","v":460.8,"t":"Růstová varianta"},{"d":"2023-05-15","v":456.5,"t":"(DXY Klesající)"}]},"mark":{"type":"text","align":"left","baseline":"middle","fontSize":16.3,"fontStyle":"italic","fontWeight":"bold","color":"#2ecc40","font":"Open Sans"},"encoding":{"y":{"field":"v","type":"quantitative","title":null},"text":{"field":"t"}}},
{"data":{"values":[{"d":"2023-04-27","v":394.3,"t":"Klíčový support pro růst"}]},"mark":{"type":"text","align":"left","baseline":"middle","fontSize":13.6,"fontStyle":"italic","fontWeight":"bold","color":"#2ecc40","font":"Open Sans"},"encoding":{"y":{"field":"v","type":"quantitative","title":null},"text":{"field":"t"}}},
{"data":{"values":[{"d":"2022-01-12","v":477.2,"t":"(ii)"},{"d":"2022-02-03","v":462.0,"t":"(iv)"},{"d":"2022-01-09","v":451.9,"t":"(i)"},{"d":"2022-01-25","v":417.9,"t":"(iii)"},{"d":"2022-02-24","v":405.9,"t":"(v)"},{"d":"2022-02-27","v":401.0,"t":"A"},{"d":"2022-03-28","v":465.8,"t":"B"},{"d":"2022-04-20","v":454.0,"t":"(ii)"},{"d":"2022-04-13","v":428.6,"t":"(i)"},{"d":"2022-06-02","v":421.0,"t":"(iv)"},{"d":"2022-05-18","v":376.9,"t":"(iii)"},{"d":"2022-06-19","v":358.3,"t":"(v)"},{"d":"2022-06-19","v":354.5,"t":"C"},{"d":"2022-09-09","v":414.8,"t":"ii"},{"d":"2022-08-30","v":385.5,"t":"i"},{"d":"2022-10-05","v":382.4,"t":"iv"},{"d":"2022-09-23","v":357.6,"t":"iii"},{"d":"2022-10-04","v":345.2,"t":"v"},{"d":"2023-02-13","v":418.6,"t":"ii"},{"d":"2023-03-04","v":411.0,"t":"iv"},{"d":"2023-02-10","v":400.4,"t":"i"},{"d":"2023-02-26","v":389.0,"t":"iii"},{"d":"2023-03-08","v":376.6,"t":"v"}]},"mark":{"type":"text","align":"center","baseline":"middle","fontSize":12.5,"fontWeight":"bold","color":"#e3c34a","font":"Open Sans"},"encoding":{"y":{"field":"v","type":"quantitative","title":null},"text":{"field":"t"}}},
{"data":{"values":[{"d":"2022-12-02","v":415.0,"t":"a"},{"d":"2022-12-30","v":370.7,"t":"b"},{"d":"2023-02-04","v":423.4,"t":"c"}]},"mark":{"type":"text","align":"center","baseline":"middle","fontSize":12.5,"fontWeight":"bold","color":"#2db548","font":"Open Sans"},"encoding":{"y":{"field":"v","type":"quantitative","title":null},"text":{"field":"t"}}},
{"data":{"values":[{"d":"2022-06-29","v":397.3},{"d":"2022-07-14","v":367.3},{"d":"2022-08-16","v":436.5}]},"mark":{"type":"point","shape":"circle","size":230,"filled":false,"strokeWidth":1.3,"color":"#e3c34a","opacity":1},"encoding":{"y":{"field":"v","type":"quantitative","title":null}}},
{"data":{"values":[{"d":"2022-06-29","v":397.3,"t":"a"},{"d":"2022-07-14","v":367.3,"t":"b"},{"d":"2022-08-16","v":436.5,"t":"c"}]},"mark":{"type":"text","align":"center","baseline":"middle","fontSize":11,"fontWeight":"bold","color":"#e3c34a","font":"Open Sans","dy":-1},"encoding":{"y":{"field":"v","type":"quantitative","title":null},"text":{"field":"t"}}},
{"data":{"values":[{"d":"2021-12-17","v":327.4},{"d":"2022-03-18","v":327.4},{"d":"2022-06-17","v":327.4},{"d":"2022-09-16","v":327.4},{"d":"2022-12-16","v":327.4},{"d":"2023-03-17","v":327.4}]},"mark":{"type":"point","shape":"circle","size":200,"filled":true,"fill":"#141823","stroke":"#2f4fd0","strokeWidth":1.5,"opacity":1},"encoding":{"y":{"field":"v","type":"quantitative","title":null}}},
{"data":{"values":[{"d":"2021-12-17","v":327.4},{"d":"2022-03-18","v":327.4},{"d":"2022-06-17","v":327.4},{"d":"2022-09-16","v":327.4},{"d":"2022-12-16","v":327.4},{"d":"2023-03-17","v":327.4}]},"mark":{"type":"text","align":"center","baseline":"middle","fontSize":9,"color":"#3d5fe0","font":"Roboto","text":"D"},"encoding":{"y":{"field":"v","type":"quantitative","title":null}}},
{"data":{"values":[{"d":"2023-04-10","v":327.4}]},"mark":{"type":"point","shape":"circle","size":200,"filled":true,"fill":"#141823","stroke":"#8e44c9","strokeWidth":1.5,"opacity":1},"encoding":{"y":{"field":"v","type":"quantitative","title":null}}},
{"data":{"values":[{"d":"2023-04-10","v":327.4}]},"mark":{"type":"text","align":"center","baseline":"middle","fontSize":10,"color":"#9b59d0","font":"DejaVu Sans","text":"ϟ"},"encoding":{"y":{"field":"v","type":"quantitative","title":null}}},
{"data":{"values":[{"d":"2023-07-31","v":451.18,"g":"res"},{"d":"2023-07-31","v":436.85,"g":"res"},{"d":"2023-07-31","v":431.64,"g":"inv"},{"d":"2023-07-31","v":422.02,"g":"gap"},{"d":"2023-07-31","v":419.26,"g":"gap"},{"d":"2023-07-31","v":413.42,"g":"pre"},{"d":"2023-07-31","v":409.72,"g":"last"},{"d":"2023-07-31","v":391.11,"g":"sup"},{"d":"2023-07-31","v":348.41,"g":"low"}]},"mark":{"type":"point","shape":"M-1,-0.3L1,-0.3L1,0.3L-1,0.3Z","size":1849,"filled":true,"opacity":1},"encoding":{"y":{"field":"v","type":"quantitative","title":null},"color":{"field":"g","type":"nominal","legend":null,"scale":{"domain":["res","inv","gap","pre","last","sup","low"],"range":["#f23645","#e8e8ea","#f5e63c","#f7931a","#f23645","#22e622","#f5e63c"]}}}},
{"data":{"values":[{"d":"2023-07-31","v":451.18,"g":"res"},{"d":"2023-07-31","v":436.85,"g":"res"},{"d":"2023-07-31","v":431.64,"g":"inv"},{"d":"2023-07-31","v":422.02,"g":"gap"},{"d":"2023-07-31","v":419.26,"g":"gap"},{"d":"2023-07-31","v":413.42,"g":"pre"},{"d":"2023-07-31","v":409.72,"g":"last"},{"d":"2023-07-31","v":391.11,"g":"sup"},{"d":"2023-07-31","v":348.41,"g":"low"}]},"mark":{"type":"text","fontSize":11,"font":"Roboto"},"encoding":{"y":{"field":"v","type":"quantitative","title":null},"text":{"field":"v","type":"quantitative","format":".2f"},"color":{"condition":{"test":"datum.g == 'res' || datum.g == 'pre' || datum.g == 'last'","value":"#ffffff"},"value":"#1a1a1a"}}},
{"data":{"values":[{"d":"2023-07-20","v":413.42}]},"mark":{"type":"point","shape":"M-1,-0.54L1,-0.54L1,0.54L-1,0.54Z","size":576,"filled":true,"color":"#f7931a","opacity":1},"encoding":{"y":{"field":"v","type":"quantitative","title":null}}},
{"data":{"values":[{"d":"2023-07-20","v":413.42}]},"mark":{"type":"text","fontSize":10,"font":"Roboto","color":"#ffffff","text":"Pre"},"encoding":{"y":{"field":"v","type":"quantitative","title":null}}},
{"data":{"values":[{"d":"2023-07-05","v":326.8}]},"mark":{"type":"point","shape":"M-1,-0.15L1,-0.15L1,0.15L-1,0.15Z","size":12544,"filled":true,"color":"#f23645","opacity":1},"encoding":{"y":{"field":"v","type":"quantitative","title":null}}},
{"data":{"values":[{"d":"2023-07-05","v":326.8}]},"mark":{"type":"text","fontSize":10.5,"font":"Roboto","color":"#ffffff","text":"−96.05 (−23.45%) −9605"},"encoding":{"y":{"field":"v","type":"quantitative","title":null}}},
{"data":{"values":[{"d":"2023-07-26","v":481.6}]},"mark":{"type":"text","fontSize":10,"font":"Roboto","color":"#b2b5be","align":"left","text":"USD"},"encoding":{"y":{"field":"v","type":"quantitative","title":null}}},
{"data":{"values":[{"d":"2021-11-16","v":481.3,"t":"SPDR S&P 500 ETF TRUST, 1D, Arca"},{"d":"2021-11-16","v":478.3,"t":"Philakone EMA"}]},"mark":{"type":"text","align":"left","baseline":"middle","fontSize":10,"color":"#b2b5be","font":"Roboto"},"encoding":{"y":{"field":"v","type":"quantitative","title":null},"text":{"field":"t"}}},
{"data":{"values":[{"d":"2022-01-14","v":481.3,"t":"O410.26 H411.18 L408.92 C409.72 +0.11 (+0.03%)"}]},"mark":{"type":"text","align":"left","baseline":"middle","fontSize":10,"color":"#f23645","font":"Roboto"},"encoding":{"y":{"field":"v","type":"quantitative","title":null},"text":{"field":"t"}}},
{"data":{"values":[{"d":"2021-12-09","v":478.3,"t":"399.88"}]},"mark":{"type":"text","align":"left","baseline":"middle","fontSize":10,"color":"#26a9c8","font":"Roboto"},"encoding":{"y":{"field":"v","type":"quantitative","title":null},"text":{"field":"t"}}},
{"data":{"values":[{"d":"2021-12-20","v":478.3,"t":"399.64"}]},"mark":{"type":"text","align":"left","baseline":"middle","fontSize":10,"color":"#f0932b","font":"Roboto"},"encoding":{"y":{"field":"v","type":"quantitative","title":null},"text":{"field":"t"}}},
{"data":{"values":[{"d":"2021-12-22","d2":"2022-01-15","v":324.3,"v2":320.6}]},"mark":{"type":"rect","fill":"#22c4e0"},"encoding":{"x2":{"field":"d2"},"y":{"field":"v","type":"quantitative","title":null},"y2":{"field":"v2"}}},
{"data":{"values":[{"d":"2022-01-04","v":322.45,"t":"Tue 04 Jan '22"}]},"mark":{"type":"text","align":"center","baseline":"middle","fontSize":10.5,"color":"#131722","font":"Roboto"},"encoding":{"y":{"field":"v","type":"quantitative","title":null},"text":{"field":"t"}}},
{"data":{"values":[{"d":"2021-11-13","v":317.0,"t":"TV  TradingView"}]},"mark":{"type":"text","align":"left","baseline":"middle","fontSize":11,"fontWeight":"bold","color":"#d1d4dc","font":"Roboto"},"encoding":{"y":{"field":"v","type":"quantitative","title":null},"text":{"field":"t"}}}
]
}
]
}
